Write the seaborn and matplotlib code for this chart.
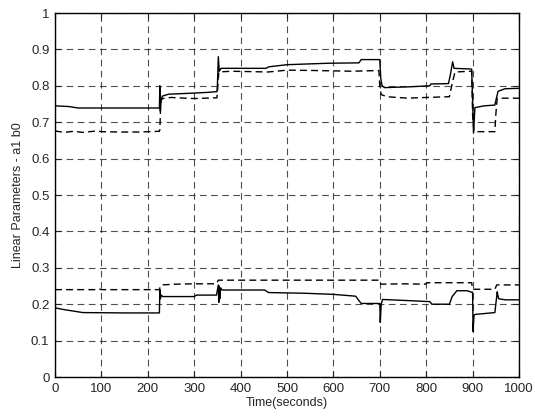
import matplotlib
matplotlib.use("Agg")
import matplotlib.pyplot as plt
import seaborn as sns
import pandas as pd

# a1: estimated (solid) and reference (dashed)
a1_est_t = [0, 30, 50, 225, 226, 227, 229, 232, 245, 300, 330, 349, 350, 352, 354, 358,
            420, 455, 460, 500, 590, 655, 660, 700, 702, 705, 710, 760, 808, 810, 848,
            852, 857, 860, 898, 900, 902, 905, 925, 948, 952, 955, 970, 1000]
a1_est_v = [0.745, 0.743, 0.739, 0.739, 0.800, 0.730, 0.765, 0.772, 0.777, 0.780, 0.782,
            0.784, 0.800, 0.880, 0.840, 0.848, 0.848, 0.848, 0.852, 0.858, 0.862, 0.863,
            0.872, 0.872, 0.820, 0.800, 0.795, 0.797, 0.800, 0.805, 0.806, 0.830, 0.866,
            0.848, 0.846, 0.760, 0.670, 0.740, 0.745, 0.747, 0.770, 0.785, 0.792, 0.793]

a1_ref_t = [0, 20, 40, 60, 90, 100, 140, 180, 225, 226, 228, 232, 250, 280, 300, 349,
            351, 353, 380, 420, 460, 500, 560, 640, 698, 700, 703, 715, 760, 800, 850,
            855, 862, 898, 900, 903, 948, 950, 953, 1000]
a1_ref_v = [0.676, 0.672, 0.675, 0.672, 0.676, 0.674, 0.673, 0.673, 0.675, 0.680, 0.760,
            0.765, 0.768, 0.766, 0.765, 0.767, 0.800, 0.838, 0.840, 0.839, 0.838, 0.843,
            0.842, 0.840, 0.842, 0.800, 0.776, 0.770, 0.766, 0.768, 0.770, 0.800, 0.838,
            0.840, 0.720, 0.674, 0.674, 0.720, 0.766, 0.766]

# b0: estimated (solid) and reference (dashed)
b0_est_t = [0, 20, 60, 150, 225, 226, 227, 229, 232, 300, 305, 348, 352, 353, 354, 355,
            357, 360, 452, 460, 540, 600, 648, 655, 660, 700, 701, 703, 706, 760, 808,
            812, 850, 856, 866, 888, 898, 900, 901, 903, 906, 948, 952, 953, 956, 970,
            1000]
b0_est_v = [0.190, 0.185, 0.177, 0.176, 0.176, 0.240, 0.215, 0.225, 0.221, 0.221, 0.225,
            0.225, 0.253, 0.205, 0.250, 0.215, 0.245, 0.239, 0.239, 0.232, 0.230, 0.227,
            0.222, 0.210, 0.202, 0.202, 0.150, 0.200, 0.213, 0.210, 0.207, 0.200, 0.200,
            0.221, 0.237, 0.237, 0.233, 0.233, 0.125, 0.170, 0.172, 0.177, 0.222, 0.234,
            0.215, 0.212, 0.212]

b0_ref_t = [0, 90, 95, 100, 225, 227, 230, 260, 300, 348, 352, 700, 702, 750, 798, 802,
            898, 900, 948, 952, 1000]
b0_ref_v = [0.240, 0.240, 0.242, 0.240, 0.240, 0.250, 0.253, 0.255, 0.256, 0.256, 0.266,
            0.266, 0.255, 0.256, 0.255, 0.259, 0.259, 0.241, 0.241, 0.253, 0.253]

x_ticks = list(range(0, 1001, 100))
y_ticks = [0, 0.1, 0.2, 0.3, 0.4, 0.5, 0.6, 0.7, 0.8, 0.9, 1]
y_tick_labels = ["0", "0.1", "0.2", "0.3", "0.4", "0.5", "0.6", "0.7", "0.8", "0.9", "1"]

sns.set_style("ticks")
plt.rcParams["font.family"] = ["Liberation Sans", "DejaVu Sans"]

fig = plt.figure(figsize=(5.35, 4.16), dpi=100)
ax = fig.add_axes([55 / 535, 39 / 416, 464 / 535, 364 / 416])

series = [
    (a1_est_t, a1_est_v, "-"),
    (a1_ref_t, a1_ref_v, (0, (5, 3))),
    (b0_est_t, b0_est_v, "-"),
    (b0_ref_t, b0_ref_v, (0, (5, 3))),
]
for t, v, ls in series:
    df = pd.DataFrame({"t": t, "v": v})
    sns.lineplot(data=df, x="t", y="v", ax=ax, color="black", linewidth=1.0,
                 linestyle=ls, estimator=None, sort=False, legend=False)

ax.set_xlim(0, 1000)
ax.set_ylim(0, 1)
ax.set_xticks(x_ticks)
ax.set_yticks(y_ticks)
ax.set_yticklabels(y_tick_labels)
ax.grid(True, color="#222222", linestyle=(0, (6, 4)), linewidth=0.8, alpha=0.8)
ax.tick_params(direction="in", length=4, width=0.8, labelsize=9.5,
               top=True, right=True, pad=4)
for s in ax.spines.values():
    s.set_linewidth(1.0)
    s.set_color("black")
ax.set_xlabel("Time(seconds)", fontsize=9, labelpad=2)
ax.set_ylabel("Linear Parameters - a1 b0", fontsize=9, labelpad=5)

fig.savefig("out.png", dpi=100, facecolor="white")
